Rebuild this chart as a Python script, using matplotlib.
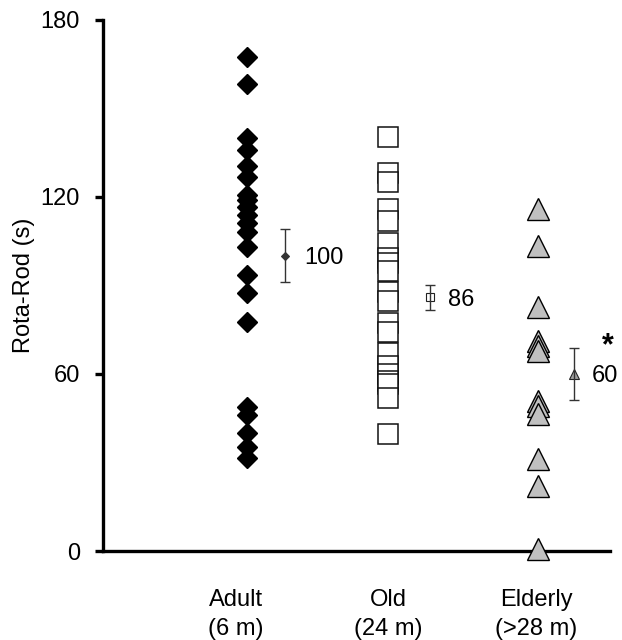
import matplotlib
matplotlib.use("Agg")
import matplotlib.pyplot as plt

plt.rcParams["font.family"] = ["Liberation Sans", "DejaVu Sans"]

# data
groups = ["Adult\n(6 m)", "Old\n(24 m)", "Elderly\n(>28 m)"]
adult = [167.5, 158.3, 140.0, 136.0, 130.5, 126.8, 120.7, 119.0, 116.6, 113.9,
         111.2, 108.0, 103.0, 93.6, 87.5, 77.6, 48.8, 46.1, 40.0, 35.3, 31.5]
old = [140.4, 128.0, 125.1, 115.9, 111.8, 104.3, 99.2, 97.5, 95.0, 87.7,
       84.6, 77.3, 74.1, 67.1, 62.8, 60.0, 57.7, 56.6, 52.0, 39.7]
elderly = [115.9, 103.5, 82.8, 71.3, 69.6, 67.9, 50.9, 49.3, 46.4, 31.2, 22.1, 0.7]
means = [100, 86, 60]
sems = [9.0, 4.3, 8.7]
yticks = [0, 60, 120, 180]

# layout (x positions in axis units)
point_x = [1.14, 2.25, 3.43]
label_x = [1.05, 2.25, 3.42]
mean_x = [1.44, 2.58, 3.72]
text_x = [1.59, 2.72, 3.86]

fig = plt.figure(figsize=(6.22, 6.40), dpi=100)
ax = fig.add_axes([0.1656, 0.139, 0.815, 0.830])

ax.plot([point_x[0]] * len(adult), adult, linestyle="none", marker="D",
        markersize=9.7, color="black", zorder=3, clip_on=False)
ax.plot([point_x[1]] * len(old), old, linestyle="none", marker="s",
        markersize=15, markerfacecolor="white", markeredgecolor="#111111",
        markeredgewidth=1.1, zorder=3, clip_on=False)
ax.plot([point_x[2]] * len(elderly), elderly, linestyle="none", marker="^",
        markersize=15.6, markerfacecolor="#c0c0c0", markeredgecolor="black",
        markeredgewidth=1.0, zorder=4, clip_on=False)

# means with sem
styles = [dict(marker="D", markersize=4.2, markerfacecolor="#333333", markeredgecolor="#333333"),
          dict(marker="s", markersize=6, markerfacecolor="none", markeredgecolor="#222222"),
          dict(marker="^", markersize=7.5, markerfacecolor="#a0a0a0", markeredgecolor="#222222")]
for i in range(3):
    ax.plot(mean_x[i], means[i], linestyle="none", markeredgewidth=0.8, zorder=3, **styles[i])
    ax.errorbar(mean_x[i], means[i], yerr=sems[i], fmt="none", ecolor="#333333",
                elinewidth=1.0, capsize=3.6, capthick=1.0, zorder=4)
    ax.text(text_x[i], means[i], str(means[i]), fontsize=17, va="center_baseline", ha="left")

ax.text(3.98, 69.5, "*", fontsize=22, fontweight="bold", ha="center", va="center")

ax.set_xlim(0, 4)
ax.set_ylim(0, 180)
ax.set_yticks(yticks)
ax.set_yticklabels([str(t) for t in yticks])
ax.set_xticks(label_x)
ax.set_xticklabels(groups, linespacing=1.45)
ax.tick_params(axis="x", length=0, pad=27, labelsize=17)
ax.tick_params(axis="y", direction="out", length=5.5, width=2.4, pad=11, labelsize=17)
ax.set_ylabel("Rota-Rod (s)", fontsize=17, labelpad=7)
ax.yaxis.set_label_coords(-0.135, 0.5)

for side in ["top", "right"]:
    ax.spines[side].set_visible(False)
for side in ["left", "bottom"]:
    ax.spines[side].set_linewidth(2.4)

fig.savefig("out.png", dpi=100)
